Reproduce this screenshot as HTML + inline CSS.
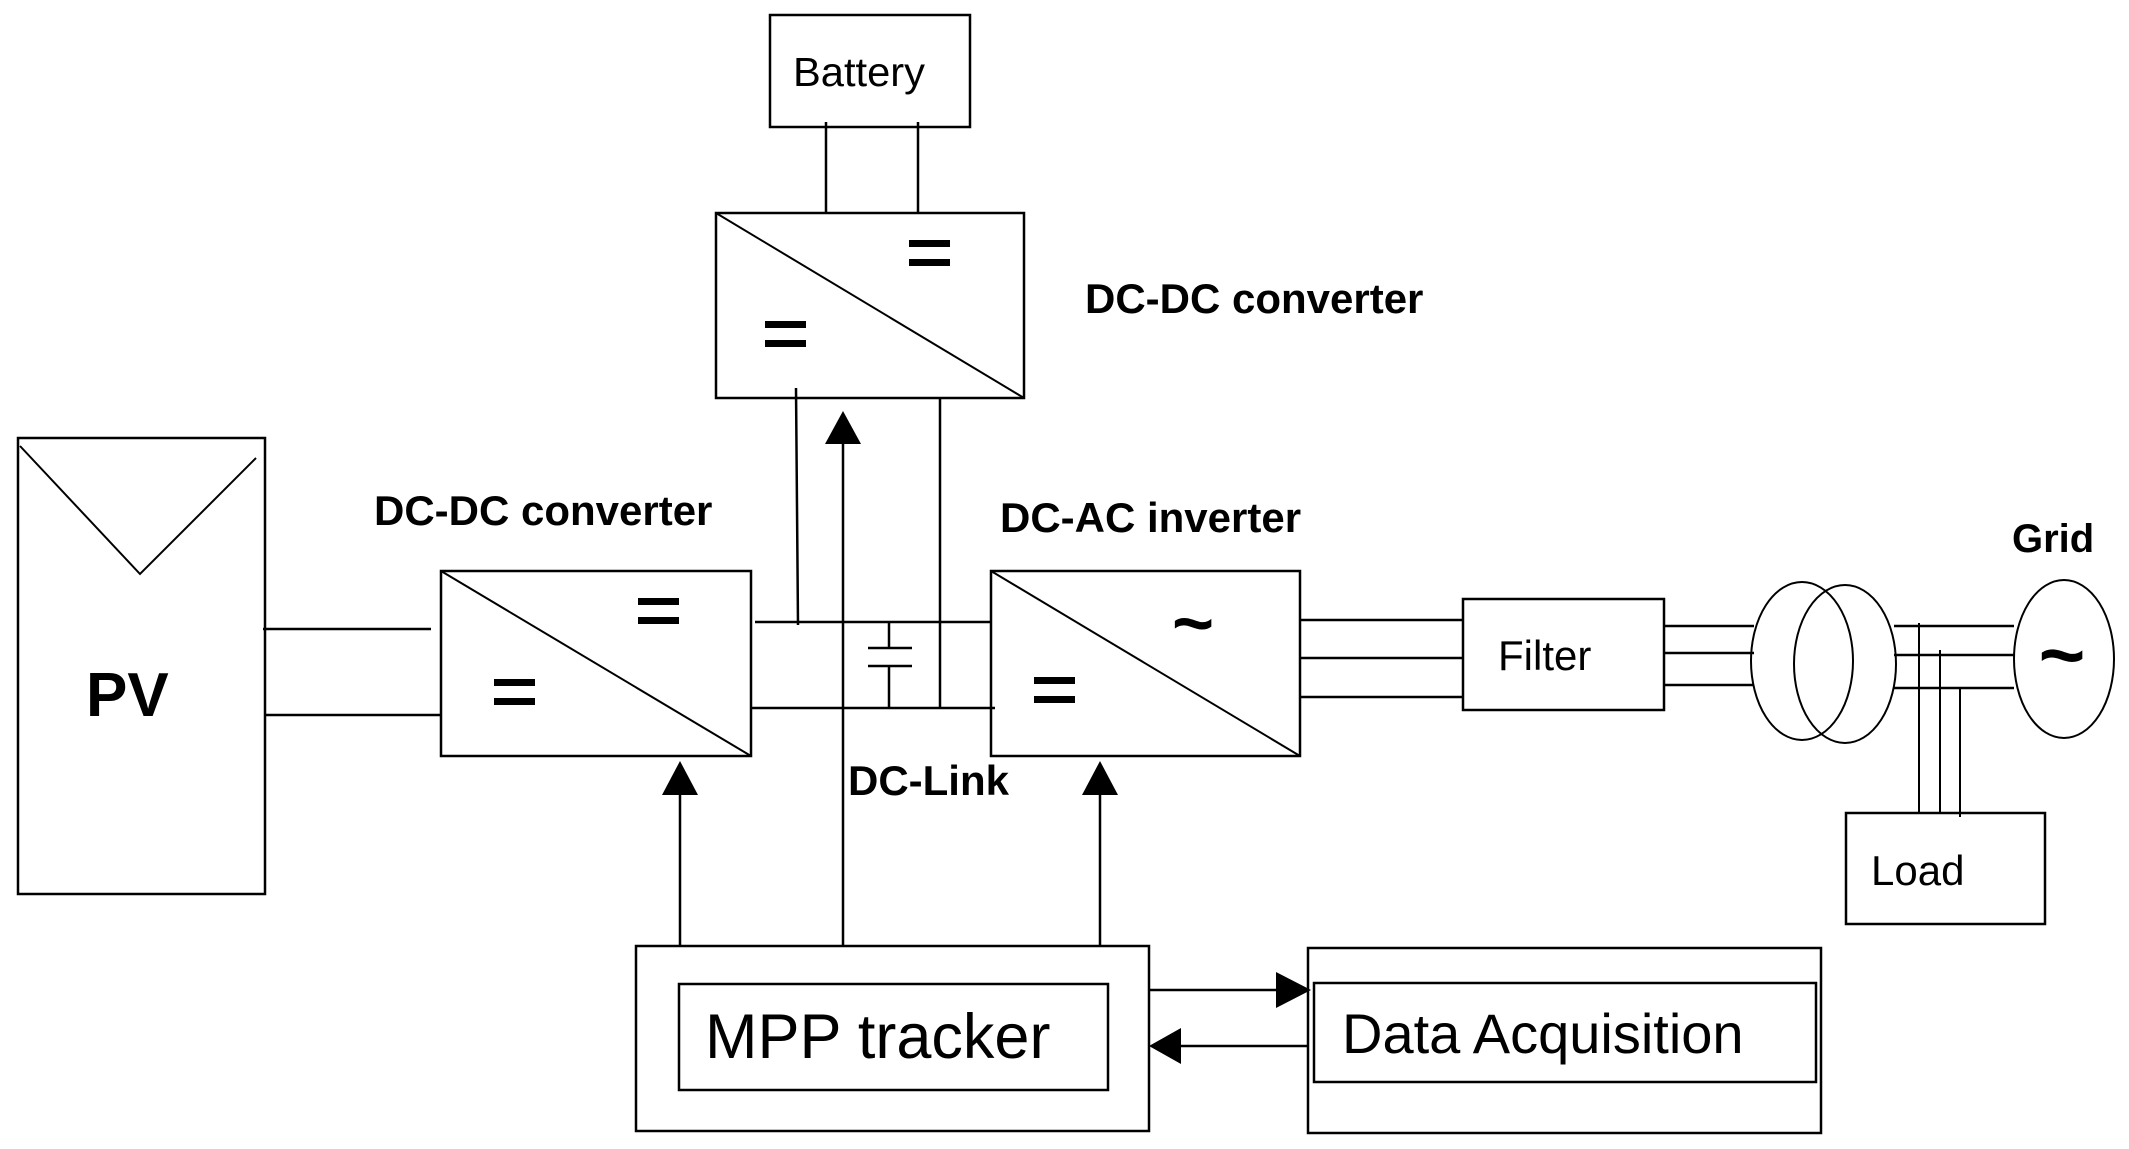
<!DOCTYPE html>
<html><head><meta charset="utf-8"><style>
html,body{margin:0;padding:0;background:#fff;}
svg{display:block;}
text{font-family:"Liberation Sans",sans-serif;fill:#000;}
.b{font-weight:bold;}
</style></head><body>
<svg width="2129" height="1149" viewBox="0 0 2129 1149" xmlns="http://www.w3.org/2000/svg">
<g fill="none" stroke="#000" stroke-width="2.5">
<rect x="770" y="15" width="200" height="112"/>
<line x1="826" y1="122" x2="826" y2="213"/>
<line x1="918" y1="122" x2="918" y2="213"/>
<rect x="716" y="213" width="308" height="185"/>
<line x1="716" y1="213" x2="1024" y2="398" stroke-width="2"/>
<line x1="796" y1="388" x2="798" y2="625"/>
<line x1="940" y1="398" x2="940" y2="708"/>
<line x1="843" y1="440" x2="843" y2="946"/>
<rect x="18" y="438" width="247" height="456"/>
<polyline points="20,446 140,574 256,458" stroke-width="2"/>
<line x1="263" y1="629" x2="431" y2="629"/>
<line x1="265" y1="715" x2="441" y2="715"/>
<rect x="441" y="571" width="310" height="185"/>
<line x1="441" y1="571" x2="751" y2="756" stroke-width="2"/>
<line x1="755" y1="622" x2="991" y2="622"/>
<line x1="751" y1="708" x2="995" y2="708"/>
<line x1="889" y1="622" x2="889" y2="648"/>
<line x1="889" y1="666" x2="889" y2="708"/>
<line x1="868" y1="648" x2="912" y2="648"/>
<line x1="868" y1="666" x2="912" y2="666"/>
<rect x="991" y="571" width="309" height="185"/>
<line x1="991" y1="571" x2="1300" y2="756" stroke-width="2"/>
<line x1="1300" y1="620" x2="1463" y2="620"/>
<line x1="1300" y1="658" x2="1463" y2="658"/>
<line x1="1300" y1="697" x2="1463" y2="697"/>
<rect x="1463" y="599" width="201" height="111"/>
<line x1="1664" y1="626" x2="1754" y2="626"/>
<line x1="1664" y1="653" x2="1754" y2="653"/>
<line x1="1664" y1="685" x2="1754" y2="685"/>
<ellipse cx="1802" cy="661" rx="51" ry="79" stroke-width="2"/>
<ellipse cx="1845" cy="664" rx="51" ry="79" stroke-width="2"/>
<line x1="1894" y1="626" x2="2014" y2="626"/>
<line x1="1894" y1="655" x2="2014" y2="655"/>
<line x1="1894" y1="688" x2="2014" y2="688"/>
<ellipse cx="2064" cy="659" rx="50" ry="79" stroke-width="2"/>
<line x1="1919" y1="623" x2="1919" y2="813" stroke-width="2"/>
<line x1="1940" y1="650" x2="1940" y2="813" stroke-width="2"/>
<line x1="1960" y1="688" x2="1960" y2="817" stroke-width="2"/>
<rect x="1846" y="813" width="199" height="111"/>
<rect x="636" y="946" width="513" height="185"/>
<rect x="679" y="984" width="429" height="106"/>
<line x1="680" y1="790" x2="680" y2="946"/>
<line x1="1100" y1="790" x2="1100" y2="946"/>
<rect x="1308" y="948" width="513" height="185"/>
<rect x="1314" y="983" width="502" height="99"/>
<line x1="1149" y1="990" x2="1280" y2="990"/>
<line x1="1178" y1="1046" x2="1308" y2="1046"/>
</g>
<g fill="#000">
<polygon points="843,411 825,444 861,444"/>
<polygon points="680,761 662,795 698,795"/>
<polygon points="1100,761 1082,795 1118,795"/>
<polygon points="1311,990 1276,972 1276,1008"/>
<polygon points="1149,1046 1181,1028 1181,1064"/>
<rect x="909" y="240" width="41" height="7"/><rect x="909" y="259" width="41" height="7"/>
<rect x="765" y="321" width="41" height="7"/><rect x="765" y="340" width="41" height="7"/>
<rect x="638" y="598" width="41" height="7"/><rect x="638" y="617" width="41" height="7"/>
<rect x="494" y="679" width="41" height="7"/><rect x="494" y="698" width="41" height="7"/>
<rect x="1034" y="677" width="41" height="7"/><rect x="1034" y="696" width="41" height="7"/>
</g>
<text x="793" y="86" font-size="41" textLength="132" lengthAdjust="spacingAndGlyphs">Battery</text>
<text class="b" x="1085" y="313" font-size="42">DC-DC converter</text>
<text class="b" x="374" y="525" font-size="42">DC-DC converter</text>
<text class="b" x="1000" y="532" font-size="42">DC-AC inverter</text>
<text class="b" x="2012" y="552" font-size="40">Grid</text>
<text class="b" x="848" y="795" font-size="42">DC-Link</text>
<text class="b" x="86" y="716" font-size="62">PV</text>
<text x="1498" y="670" font-size="42">Filter</text>
<text x="1871" y="885" font-size="42">Load</text>
<text x="705" y="1058" font-size="63">MPP tracker</text>
<text x="1342" y="1053" font-size="56">Data Acquisition</text>
<text class="b" x="1193" y="648" font-size="72" text-anchor="middle">~</text>
<text class="b" x="2062" y="682" font-size="80" text-anchor="middle">~</text>
</svg>
</body></html>
